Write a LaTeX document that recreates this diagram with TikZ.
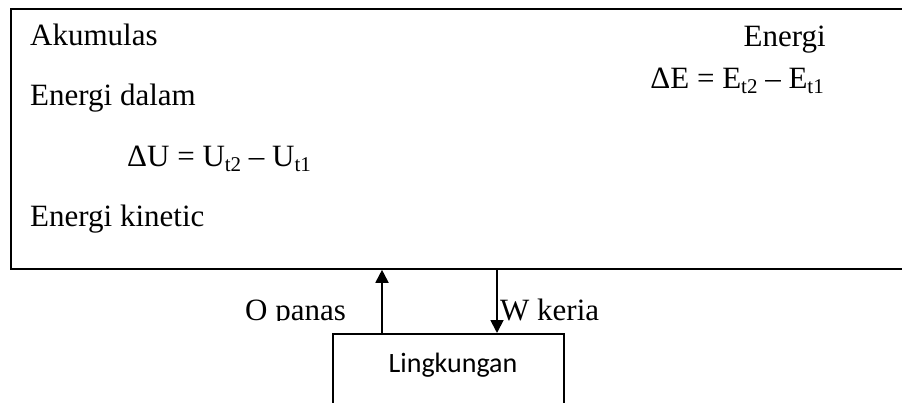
\documentclass[tikz,border=0pt]{standalone}
\usepackage{fontspec}
\setmainfont{Liberation Serif}
\newfontfamily\calibfont{Carlito}
\usetikzlibrary{arrows.meta}
\newcommand\sbs[1]{\raisebox{-0.13em}{\fontsize{21}{21}\selectfont #1}}
\begin{document}
\begin{tikzpicture}[x=1pt,y=-1pt,
  txt/.style={font=\fontsize{31}{37}\selectfont, inner sep=0pt, anchor=base west},
  boxline/.style={draw, line width=1.8pt, inner sep=0pt},
  arr/.style={-{Triangle[length=13pt,width=13pt]}, line width=1.8pt}]
\useasboundingbox (0,0) rectangle (902,403);
\clip (0,0) rectangle (902,403);
\fill[white] (0,0) rectangle (902,403);
% system box (runs past the right edge)
\node[boxline, minimum width=900pt, minimum height=260pt, anchor=north west] (sys) at (10,8) {};
% environment box (runs past the bottom edge)
\node[boxline, minimum width=231pt, minimum height=100pt, anchor=north west] (env) at (332,333) {};
\node[font=\calibfont\fontsize{28}{34}\selectfont, inner sep=0pt, anchor=base] (envlbl) at (453,372) {Lingkungan};
% texts inside the system box
\node[txt] (akum) at (30,46) {Akumulas};
\node[txt] (edalam) at (30,106) {Energi dalam};
\node[txt] (du) at (127,167) {ΔU = U\sbs{t2} – U\sbs{t1}};
\node[txt] (ekin) at (30,227) {Energi kinetic};
\node[txt, anchor=base east] (energi) at (826,47) {Energi};
\node[txt, anchor=base east] (de) at (824,89) {ΔE = E\sbs{t2} – E\sbs{t1}};
% arrows
\draw[arr] ([xshift=50pt]env.north west) -- ([xshift=50pt]env.north west |- sys.south);
\draw[arr] ([xshift=165pt]env.north west |- sys.south) -- ([xshift=165pt]env.north west);
% clipped labels
\begin{scope}
\clip (0,0) rectangle (902,320);
\node[txt] (qlbl) at (245,320) {O panas};
\node[txt] (wlbl) at (500,320) {W keria};
\end{scope}
\end{tikzpicture}
\end{document}
